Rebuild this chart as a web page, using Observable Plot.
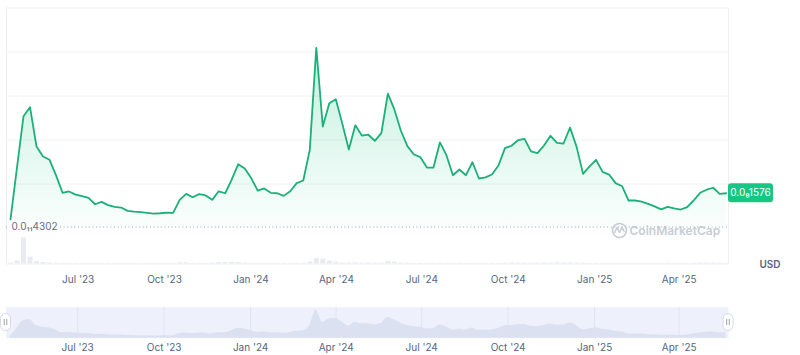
<!DOCTYPE html>
<html>
<head>
<meta charset="utf-8">
<script src="https://cdn.jsdelivr.net/npm/d3@7"></script>
<script src="https://cdn.jsdelivr.net/npm/@observablehq/plot@0.6"></script>
<style>
  html, body { margin: 0; padding: 0; background: #fff; }
  #chart svg { display: block; }
</style>
</head>
<body>
<div id="chart"></div>
<script>
// ---- data (price in units of 1e-10 USD, weekly samples) ----
const firstDate = "2023-04-20";
const lastDate = "2025-05-21";
const price = [
  0.39, 2.75, 5.08, 5.49, 3.70, 3.25, 3.10, 2.39, 1.60, 1.66,
  1.52, 1.45, 1.37, 1.08, 1.19, 1.04, 0.96, 0.93, 0.78, 0.74,
  0.72, 0.69, 0.65, 0.67, 0.70, 0.69, 1.28, 1.55, 1.40, 1.54,
  1.48, 1.28, 1.67, 1.58, 2.20, 2.90, 2.70, 2.27, 1.70, 1.80,
  1.60, 1.58, 1.46, 1.67, 2.04, 2.16, 3.55, 8.19, 4.61, 5.67,
  5.85, 4.74, 3.57, 4.67, 4.20, 4.24, 3.96, 4.31, 6.11, 5.39,
  4.42, 3.72, 3.34, 3.22, 2.75, 2.74, 3.89, 3.31, 2.40, 2.66,
  2.40, 2.99, 2.25, 2.30, 2.43, 2.84, 3.63, 3.74, 3.99, 4.05,
  3.48, 3.40, 3.75, 4.19, 3.87, 3.84, 4.57, 3.70, 2.46, 2.80,
  3.10, 2.55, 2.43, 2.04, 1.90, 1.25, 1.25, 1.20, 1.10, 0.98,
  0.85, 0.96, 0.89, 0.84, 0.95, 1.25, 1.60, 1.74, 1.83, 1.55,
  1.58
];
// relative traded volume
const volume = [
  1, 3, 26, 7, 2.5, 1.5, 1, 0.8, 0.6, 0.6,
  0.5, 0.5, 0.5, 0.5, 0.5, 0.4, 0.4, 0.4, 0.4, 0.4,
  0.4, 0.4, 0.4, 0.4, 0.4, 0.4, 1.2, 1.2, 0.6, 0.6,
  0.6, 0.8, 1.5, 1.5, 1.8, 1.5, 0.8, 0.6, 0.6, 0.5,
  0.5, 0.5, 0.5, 0.5, 0.6, 0.8, 2, 5.5, 5, 3,
  2, 1.2, 1, 1.2, 0.8, 0.8, 0.8, 0.8, 2.5, 2,
  1, 0.8, 0.6, 0.6, 0.6, 0.6, 0.8, 0.6, 0.6, 0.6,
  0.6, 0.6, 0.5, 0.5, 0.5, 0.6, 1, 1, 1, 0.8,
  0.8, 0.8, 1, 1, 1.2, 1, 1.2, 1, 0.8, 0.6,
  0.6, 0.6, 0.6, 0.5, 0.5, 0.5, 0.5, 0.5, 0.5, 0.5,
  0.5, 0.5, 0.5, 0.5, 0.5, 0.8, 1, 1, 1, 0.8,
  0.6
];
const gridValues = [2, 4, 6, 8];
const minPrice = 0.043;
const minLabel = "0.0\u2081\u20814302";
const lastLabel = "0.0\u20891576";
const tickDates = ["2023-07-01", "2023-10-01", "2024-01-01", "2024-04-01",
                   "2024-07-01", "2024-10-01", "2025-01-01", "2025-04-01"];
const tickLabels = ["Jul '23", "Oct '23", "Jan '24", "Apr '24",
                    "Jul '24", "Oct '24", "Jan '25", "Apr '25"];
const currency = "USD";
const watermark = "CoinMarketCap";

// ---- build table ----
const t0 = new Date(firstDate).getTime(), t1 = new Date(lastDate).getTime();
const n = price.length;
const data = price.map((p, i) => ({
  date: new Date(t0 + i * (t1 - t0) / (n - 1)),
  price: p,
  vol: volume[i]
}));
const ticks = tickDates.map((d, i) => ({date: new Date(d), label: tickLabels[i]}));

const xDomain = [new Date("2023-04-15T18:00:00Z"), new Date("2025-05-23T11:00:00Z")];
const yMin = -1.636, yMax = 10;
const green = "#16c784";
const lineGreen = "#1bb077";
const grey = "#58667e";
const font = "Inter, 'Noto Sans', sans-serif";

const main = Plot.plot({
  width: 800, height: 295,
  marginLeft: 6, marginRight: 72, marginTop: 7.5, marginBottom: 31.5,
  x: {type: "utc", domain: xDomain, axis: null},
  y: {domain: [yMin, yMax], axis: null},
  style: {fontFamily: font, background: "white", overflow: "visible"},
  marks: [
    Plot.gridY(gridValues, {stroke: "#eff2f5", strokeOpacity: 1}),
    Plot.frame({stroke: "#eceff3"}),
    Plot.ruleX(data, {x: "date", y1: yMin, y2: d => yMin + d.vol / 22, stroke: "#e8ecf1", strokeWidth: 5}),
    Plot.areaY(data, {x: "date", y1: minPrice, y2: "price", fill: "url(#areaGrad)"}),
    Plot.ruleY([minPrice], {stroke: "#9aa2b3", strokeDasharray: "1,2.6", strokeWidth: 1}),
    Plot.lineY(data, {x: "date", y: "price", stroke: lineGreen, strokeWidth: 1.8, strokeLinejoin: "round"}),
    Plot.text([minPrice], {y: d => d, frameAnchor: "left", dx: 5, textAnchor: "start",
      text: () => minLabel, fill: "#616e85", stroke: "white", strokeWidth: 5, fontSize: 10}),
    Plot.text(ticks, {x: "date", frameAnchor: "bottom", dy: 16, lineAnchor: "middle",
      text: "label", fill: grey, fontSize: 10})
  ]
});

// gradient for area
const svgM = d3.select(main);
const defs = svgM.insert("defs", ":first-child");
const lg = defs.append("linearGradient").attr("id", "areaGrad")
  .attr("gradientUnits", "userSpaceOnUse")
  .attr("x1", 0).attr("x2", 0).attr("y1", 45).attr("y2", 228);
lg.append("stop").attr("offset", "0").attr("stop-color", green).attr("stop-opacity", 0.26);
lg.append("stop").attr("offset", "1").attr("stop-color", green).attr("stop-opacity", 0.02);

// current price badge
const xs = main.scale("x"), ys = main.scale("y");
const xRight = xs.apply(xDomain[1]);
const yLast = ys.apply(price[n - 1]);
svgM.append("rect").attr("x", xRight).attr("y", yLast - 9.5).attr("width", 45).attr("height", 19)
  .attr("rx", 3).attr("fill", green);
svgM.append("text").attr("x", xRight + 22.5).attr("y", yLast).attr("dy", "0.35em")
  .attr("text-anchor", "middle").attr("fill", "white").attr("font-size", 10)
  .attr("font-family", font).text(lastLabel);

// currency label
svgM.append("text").attr("x", 770).attr("y", 264.5).attr("dy", "0.35em")
  .attr("text-anchor", "middle").attr("fill", grey).attr("font-size", 10).attr("font-weight", 600)
  .attr("font-family", font).text(currency);

// watermark
const wm = svgM.append("g").attr("opacity", 0.75);
wm.append("circle").attr("cx", 619.5).attr("cy", 230.5).attr("r", 7).attr("fill", "none")
  .attr("stroke", "#b5bcc8").attr("stroke-width", 1.6);
wm.append("path").attr("d", "M614.5,233 L617,227.5 L619.5,232.5 L622,227.5 L624.5,232")
  .attr("fill", "none").attr("stroke", "#b5bcc8").attr("stroke-width", 1.5).attr("stroke-linejoin", "round");
wm.append("text").attr("x", 629.5).attr("y", 230.5).attr("dy", "0.35em")
  .attr("text-anchor", "start")
  .attr("fill", "#b5bcc8").attr("font-size", 12).attr("font-weight", 600)
  .attr("font-family", font).text(watermark);

// ---- navigator ----
const nav = Plot.plot({
  width: 800, height: 60,
  marginLeft: 5.5, marginRight: 72, marginTop: 11.7, marginBottom: 17.3,
  x: {type: "utc", domain: xDomain, axis: null},
  y: {domain: [0, 9.1], axis: null},
  style: {fontFamily: font, background: "white", overflow: "visible"},
  marks: [
    Plot.frame({fill: "#eef1fb", stroke: null}),
    Plot.ruleX(ticks, {x: "date", stroke: "#e1e5f3"}),
    Plot.areaY(data, {x: "date", y: "price", fill: "#dce1f2", curve: "monotone-x"}),
    Plot.text(ticks, {x: "date", frameAnchor: "bottom", dy: 9.6, lineAnchor: "middle",
      text: "label", fill: grey, fontSize: 10})
  ]
});
const svgN = d3.select(nav);
const nx = nav.scale("x");
[xDomain[0], xDomain[1]].forEach(d => {
  const cx = nx.apply(d), cy = 27;
  svgN.append("rect").attr("x", cx - 5).attr("y", cy - 8.5).attr("width", 10).attr("height", 17)
    .attr("rx", 5).attr("fill", "white").attr("stroke", "#d5dae5");
  svgN.append("line").attr("x1", cx - 1.3).attr("x2", cx - 1.3).attr("y1", cy - 3).attr("y2", cy + 3)
    .attr("stroke", "#9aa2b3");
  svgN.append("line").attr("x1", cx + 1.3).attr("x2", cx + 1.3).attr("y1", cy - 3).attr("y2", cy + 3)
    .attr("stroke", "#9aa2b3");
});

document.getElementById("chart").append(main, nav);
</script>
</body>
</html>
